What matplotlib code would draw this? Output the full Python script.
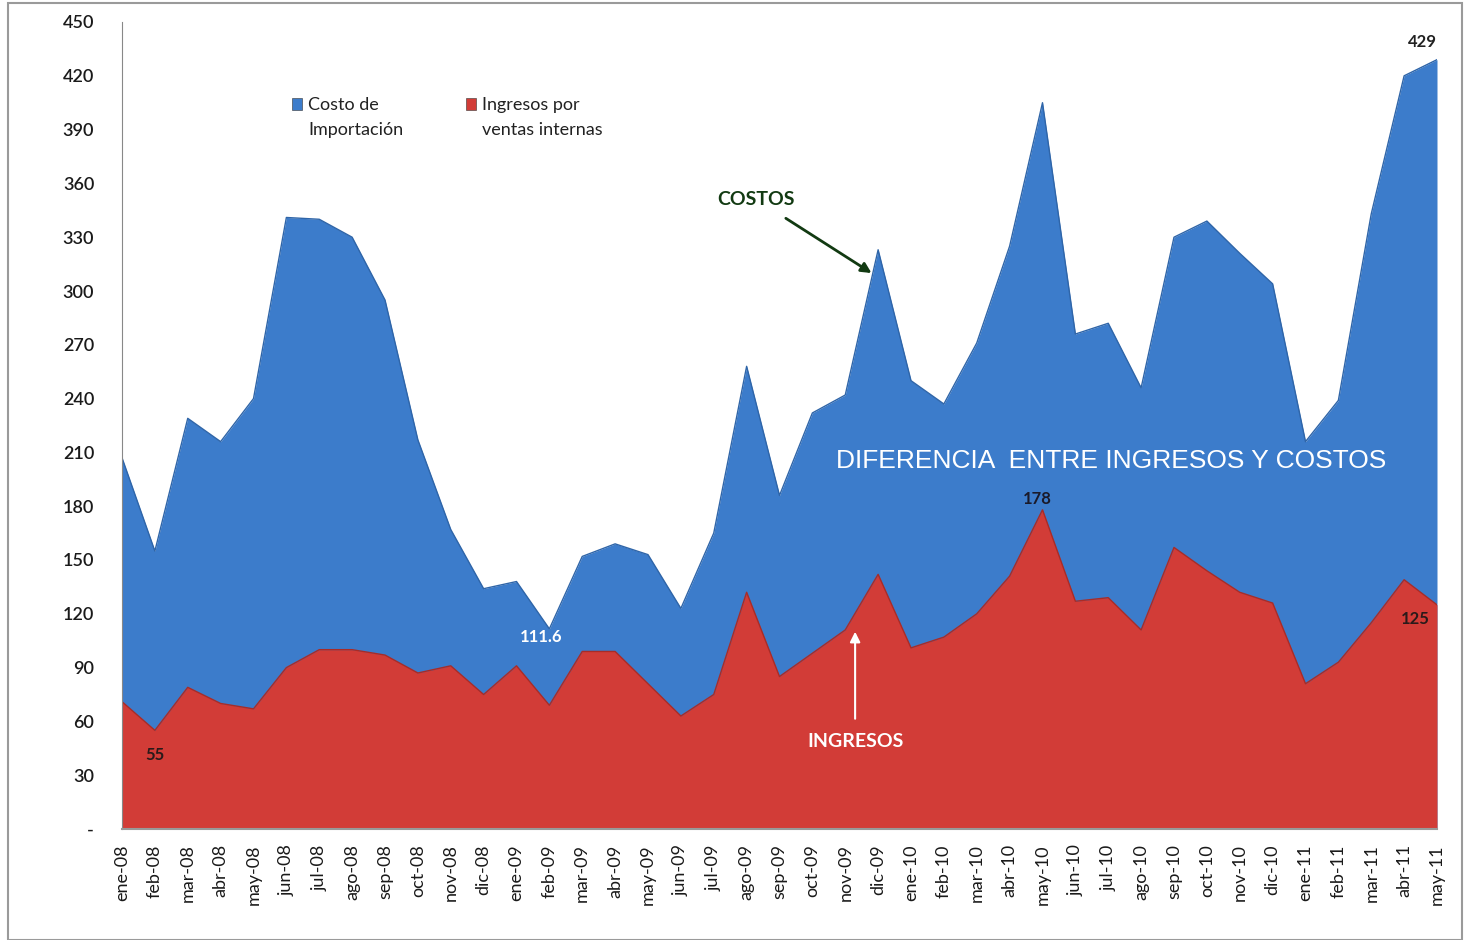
import matplotlib
matplotlib.use('Agg')
from matplotlib import pyplot as plt
from matplotlib.patches import Rectangle

months = ['ene', 'feb', 'mar', 'abr', 'may', 'jun', 'jul', 'ago', 'sep', 'oct', 'nov', 'dic']
labels = [f'{m}-{y:02d}' for y in (8, 9, 10) for m in months] + [f'{m}-11' for m in months[:5]]

costos = [207, 155, 229, 216, 240, 341, 340, 330, 295, 217, 167, 134,
          138, 111.6, 152, 159, 153, 123, 165, 258, 186, 232, 242, 323,
          250, 237, 271, 325, 405, 276, 282, 246, 330, 339, 321, 304,
          216, 239, 343, 420, 429]
ingresos = [71, 55, 79, 70, 67, 90, 100, 100, 97, 87, 91, 75,
            91, 69, 99, 99, 81, 63, 75, 132, 85, 98, 111, 142,
            101, 107, 120, 141, 178, 127, 129, 111, 157, 144, 132, 126,
            81, 93, 115, 139, 125]
series_names = ['Costo de\nImportación', 'Ingresos por\nventas internas']
colors = ['#3C7CCB', '#D23C37']

plt.rcParams['font.family'] = ['Lato', 'DejaVu Sans']

fig = plt.figure(figsize=(14.66, 9.4), dpi=100)
ax = fig.add_axes([122 / 1466, 1 - 829 / 940, (1437 - 122) / 1466, (829 - 22) / 940])

x = list(range(len(labels)))
ax.fill_between(x, 0, costos, color=colors[0], lw=0)
ax.fill_between(x, 0, ingresos, color=colors[1], lw=0)
ax.plot(x, costos, color='#2F65A8', lw=1)
ax.plot(x, ingresos, color='#A82C28', lw=1)

ax.set_xlim(0, len(labels) - 1)
ax.set_ylim(0, 450)
ax.set_yticks(range(0, 451, 30))
ax.set_yticklabels(['-'] + [str(v) for v in range(30, 451, 30)], fontsize=13, color='#1a1a1a',
                   fontweight='semibold')
ax.set_xticks(x)
ax.set_xticklabels(labels, rotation=90, fontsize=13, color='#1a1a1a')
ax.tick_params(axis='y', length=0, pad=20)
ax.tick_params(axis='x', length=0, pad=11)
for s in ('top', 'right'):
    ax.spines[s].set_visible(False)
ax.spines['left'].set_color('#888888')
ax.spines['bottom'].set_color('#999999')
ax.spines['bottom'].set_linewidth(1.5)

# legend, drawn by hand so the marker sits on the first line
for i, (name, c) in enumerate(zip(series_names, colors)):
    lx = 0.1295 + i * 0.132
    ax.add_patch(Rectangle((lx, 0.891), 0.0075, 0.0145, transform=ax.transAxes,
                           color=c, ec='#333333', lw=0.4))
    ax.text(lx + 0.012, 0.907, name, transform=ax.transAxes, ha='left', va='top',
            fontsize=13, color='#222222', linespacing=1.65)

# data labels
ax.text(1, 41, '55', ha='center', va='center', fontsize=12, fontweight='bold', color='#2a1a1a')
ax.text(12.75, 107, '111.6', ha='center', va='center', fontsize=12, fontweight='bold', color='white')
ax.text(27.85, 184, '178', ha='center', va='center', fontsize=12, fontweight='bold', color='#1a1a2a')
ax.text(39.35, 117, '125', ha='center', va='center', fontsize=12, fontweight='bold', color='#2a1a1a')
ax.text(39.55, 439, '429', ha='center', va='center', fontsize=12, fontweight='bold', color='#222222')

ax.annotate('COSTOS', xy=(22.8, 310), xytext=(19.3, 351), ha='center', va='center',
            fontsize=14, fontweight='bold', color='#123A12',
            arrowprops=dict(arrowstyle='-|>', color='#123A12', lw=2, mutation_scale=15,
                            shrinkA=10, shrinkB=0))
ax.annotate('INGRESOS', xy=(22.3, 110), xytext=(22.3, 49), ha='center', va='center',
            fontsize=14, fontweight='bold', color='white',
            arrowprops=dict(arrowstyle='-|>', color='white', lw=1.5, mutation_scale=15,
                            shrinkA=8, shrinkB=0))
ax.text(30.1, 205, 'DIFERENCIA  ENTRE INGRESOS Y COSTOS', ha='center', va='center',
        fontsize=19, color='white', family='Liberation Sans')

fig.patches.append(Rectangle((8 / 1466, 0.0), 1454 / 1466, 1 - 3 / 940, transform=fig.transFigure,
                             fill=False, edgecolor='#9a9a9a', lw=1.5))

fig.savefig('out.png', dpi=100)
